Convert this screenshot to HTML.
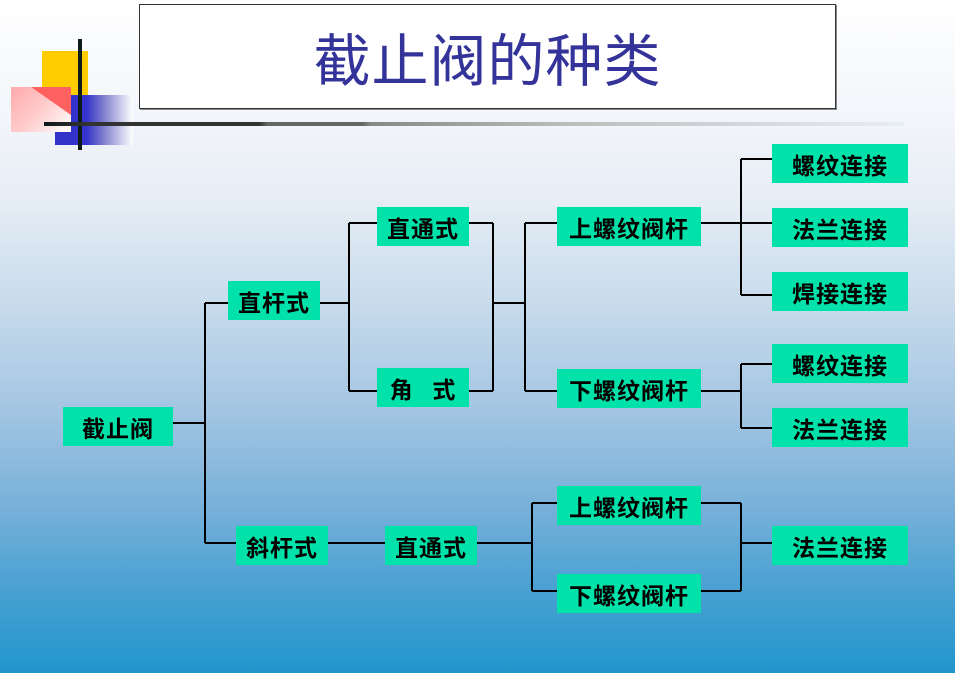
<!DOCTYPE html>
<html><head><meta charset="utf-8"><style>
html,body{margin:0;padding:0}
body{width:955px;height:673px;position:relative;overflow:hidden;
background:linear-gradient(to bottom,#ffffff 0px,#f2f5fa 120px,#e6edf5 200px,#c9dcec 300px,#a7c7e3 400px,#7bb2da 500px,#4ea2d3 580px,#2196cc 673px);
font-family:"Liberation Sans","Noto Sans CJK SC",sans-serif}
.b{position:absolute;background:#00e2aa;color:#000;font-weight:bold;font-size:23px;display:flex;align-items:center;justify-content:center;font-family:"Noto Sans CJK SC","WenQuanYi Zen Hei",sans-serif;letter-spacing:1px}
.t{position:absolute;left:139px;top:4px;width:695px;height:103px;background:#fff;border:1px solid #333;box-shadow:1px 1px 0 #888;display:flex;align-items:center;justify-content:center;color:#333399;font-size:57px;font-family:"Noto Sans CJK SC","WenQuanYi Zen Hei",sans-serif;letter-spacing:1px}
svg{position:absolute;left:0;top:0}
</style></head><body>
<div style="position:absolute;left:42px;top:51px;width:46px;height:45px;background:#ffcc00"></div>
<div style="position:absolute;left:55px;top:95px;width:78px;height:50px;background:linear-gradient(to right,#3333cc 0,#3333cc 40%,#7777cc 60%,#ffffff 100%)"></div>
<div style="position:absolute;left:11px;top:87px;width:60px;height:45px;background:linear-gradient(135deg,#ffaaaa 0,#ffcccc 50%,#ffffff 100%)"></div>
<div style="position:absolute;left:31px;top:87px;width:40px;height:28px;background:linear-gradient(to bottom left,#ff6060 50%,transparent 50%)"></div>
<div style="position:absolute;left:78px;top:39px;width:4px;height:111px;background:#0c1a18"></div>
<div style="position:absolute;left:44px;top:122px;width:860px;height:4px;background:linear-gradient(to right,#0c1a18 0,#333 5%,#333 25%,#666 26%,#666 37%,#888 38%,#bbb 60%,#e8eef5 100%)"></div>
<div class="t">截止阀的种类</div>
<svg width="955" height="673" fill="none" stroke="#000" stroke-width="2">
<path d="M173 423H205M205 303V543M205 303H228M205 543H236"/>
<path d="M320 303H349M349 223V391M349 223H377M349 391H377"/>
<path d="M469 223H493M469 391H493M493 223V391M493 303H525M525 223V391M525 223H557M525 391H557"/>
<path d="M701 223H741M741 159V295M741 159H772M741 223H772M741 295H772"/>
<path d="M701 391H741M741 364V428M741 364H772M741 428H772"/>
<path d="M328 543H385M477 543H532M532 503V591M532 503H557M532 591H557"/>
<path d="M701 503H741M701 591H741M741 503V591M741 543H772"/>
</svg>
<div class="b" style="left:63px;top:407px;width:110px;height:39px">截止阀</div>
<div class="b" style="left:228px;top:281px;width:92px;height:39px">直杆式</div>
<div class="b" style="left:236px;top:526px;width:92px;height:39px">斜杆式</div>
<div class="b" style="left:377px;top:207px;width:92px;height:39px">直通式</div>
<div class="b" style="left:377px;top:368px;width:92px;height:39px">角&nbsp;&nbsp;&nbsp;式</div>
<div class="b" style="left:385px;top:526px;width:92px;height:39px">直通式</div>
<div class="b" style="left:557px;top:207px;width:144px;height:39px">上螺纹阀杆</div>
<div class="b" style="left:557px;top:369px;width:144px;height:39px">下螺纹阀杆</div>
<div class="b" style="left:557px;top:486px;width:144px;height:39px">上螺纹阀杆</div>
<div class="b" style="left:557px;top:574px;width:144px;height:39px">下螺纹阀杆</div>
<div class="b" style="left:772px;top:144px;width:136px;height:39px">螺纹连接</div>
<div class="b" style="left:772px;top:208px;width:136px;height:39px">法兰连接</div>
<div class="b" style="left:772px;top:272px;width:136px;height:39px">焊接连接</div>
<div class="b" style="left:772px;top:344px;width:136px;height:39px">螺纹连接</div>
<div class="b" style="left:772px;top:408px;width:136px;height:39px">法兰连接</div>
<div class="b" style="left:772px;top:526px;width:136px;height:39px">法兰连接</div>
</body></html>
